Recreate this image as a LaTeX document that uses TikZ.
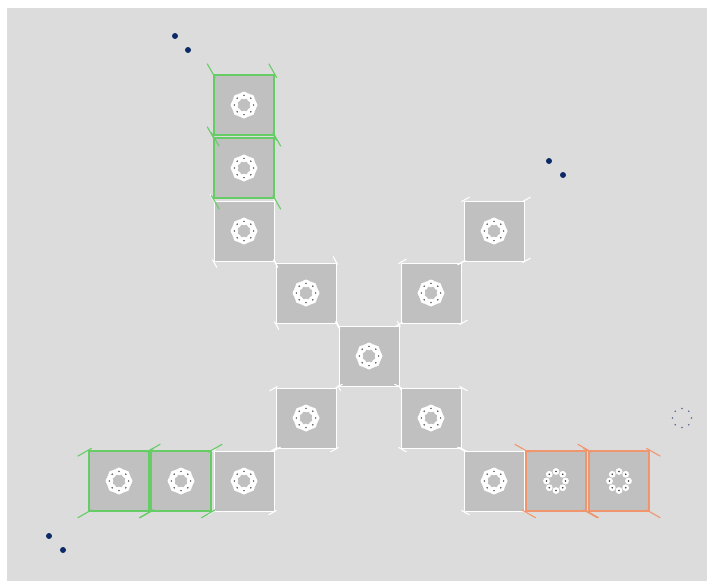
\documentclass[tikz,border=0pt]{standalone}
\definecolor{bgc}{HTML}{DCDCDC}
\definecolor{tilec}{HTML}{C0C0C0}
\definecolor{grn}{HTML}{66CC66}
\definecolor{org}{HTML}{F0966E}
\definecolor{wht}{HTML}{FFFFFF}
\definecolor{navyc}{HTML}{0B2A66}
\definecolor{pinc}{HTML}{3A3A3A}
\definecolor{dimc}{HTML}{5A6A8A}

\begin{document}
\begin{tikzpicture}[x=0.5mm, y=-0.5mm,
      tile/.style={fill=tilec, minimum size=30mm, inner sep=0pt},
      tick/.style={line width=0.55mm},
      ring/.pic={
        \draw[white, line width=2.8mm] (0,0) circle (9.6);
        \foreach \t in {0,45,...,315} \fill[white] (\t:9.6) circle (3.9);
        \foreach \t in {0,45,...,315} \fill[pinc] (\t:9.6) circle (0.8);
      },
      loose ring/.pic={
        \foreach \t in {0,45,...,315} \fill[white] (\t:9.5) circle (3.4);
        \foreach \t in {0,45,...,315} \fill[pinc] (\t:9.5) circle (0.9);
      }]
    \useasboundingbox (0,0) rectangle (707,581);
    \fill[bgc] (7,8) rectangle (707,581);
    % tiles, from the middle outwards: name/x/y/colour/tick vector/signs NW NE SW SE/border
    \foreach \n/\x/\y/\k/\vx/\vy/\a/\b/\c/\d/\w in {
        m/369/356/wht/-3/-6/1/1/-1/-1/0.5mm,
        u4/306/293/wht/-4.5/-8/1/1/-1/-1/0.5mm,
        u3/244/231/wht/-4.5/-8/1/1/-1/-1/0.5mm,
        u2/244/168/grn/-8/-14/1/1/-1/-1/0.8mm,
        u1/244/105/grn/-8/-14/1/1/-1/-1/0.8mm,
        r1/431/293/wht/8/-4.5/1/1/-1/1/0.5mm,
        r2/494/231/wht/8/-4.5/1/1/-1/1/0.5mm,
        l1/306/418/wht/-8/4.5/1/-1/1/1/0.5mm,
        l2/244/481/wht/-8/4.5/1/-1/1/1/0.5mm,
        l3/181/481/grn/-14/8/1/-1/1/1/0.8mm,
        l4/119/481/grn/-14/8/1/-1/1/1/0.8mm,
        d1/431/418/wht/8/4.5/-1/1/1/1/0.5mm,
        d2/494/481/wht/8/4.5/-1/1/1/1/0.5mm,
        d3/556/481/org/14/8/-1/1/1/1/0.8mm,
        d4/619/481/org/14/8/-1/1/1/1/0.8mm} {
      \node[tile, draw=\k, line width=\w] (\n) at (\x,\y) {};
      \draw[tick, \k] (\n.north west) ++(-0.25*\a*\vx,-0.25*\a*\vy) -- ++(\a*\vx,\a*\vy);
      \draw[tick, \k] (\n.north east) ++(-0.25*\b*\vx,-0.25*\b*\vy) -- ++(\b*\vx,\b*\vy);
      \draw[tick, \k] (\n.south west) ++(-0.25*\c*\vx,-0.25*\c*\vy) -- ++(\c*\vx,\c*\vy);
      \draw[tick, \k] (\n.south east) ++(-0.25*\d*\vx,-0.25*\d*\vy) -- ++(\d*\vx,\d*\vy);
    }
    \foreach \n in {m,u1,u2,u3,u4,r1,r2,l1,l2,l3,l4,d1,d2}
      \pic at (\n) {ring};
    \foreach \n in {d3,d4}
      \pic at (\n) {loose ring};
    % stray markers
    \fill[navyc] (175,36) circle (3) (188,50) circle (3);
    \fill[navyc] (549,161) circle (3) (563,175) circle (3);
    \fill[navyc] (49,536) circle (3) (63,550) circle (3);
    \foreach \t in {0,45,...,315}
      \fill[dimc, shift={(682,418)}] (\t:9.5) circle (0.9);
\end{tikzpicture}
\end{document}
